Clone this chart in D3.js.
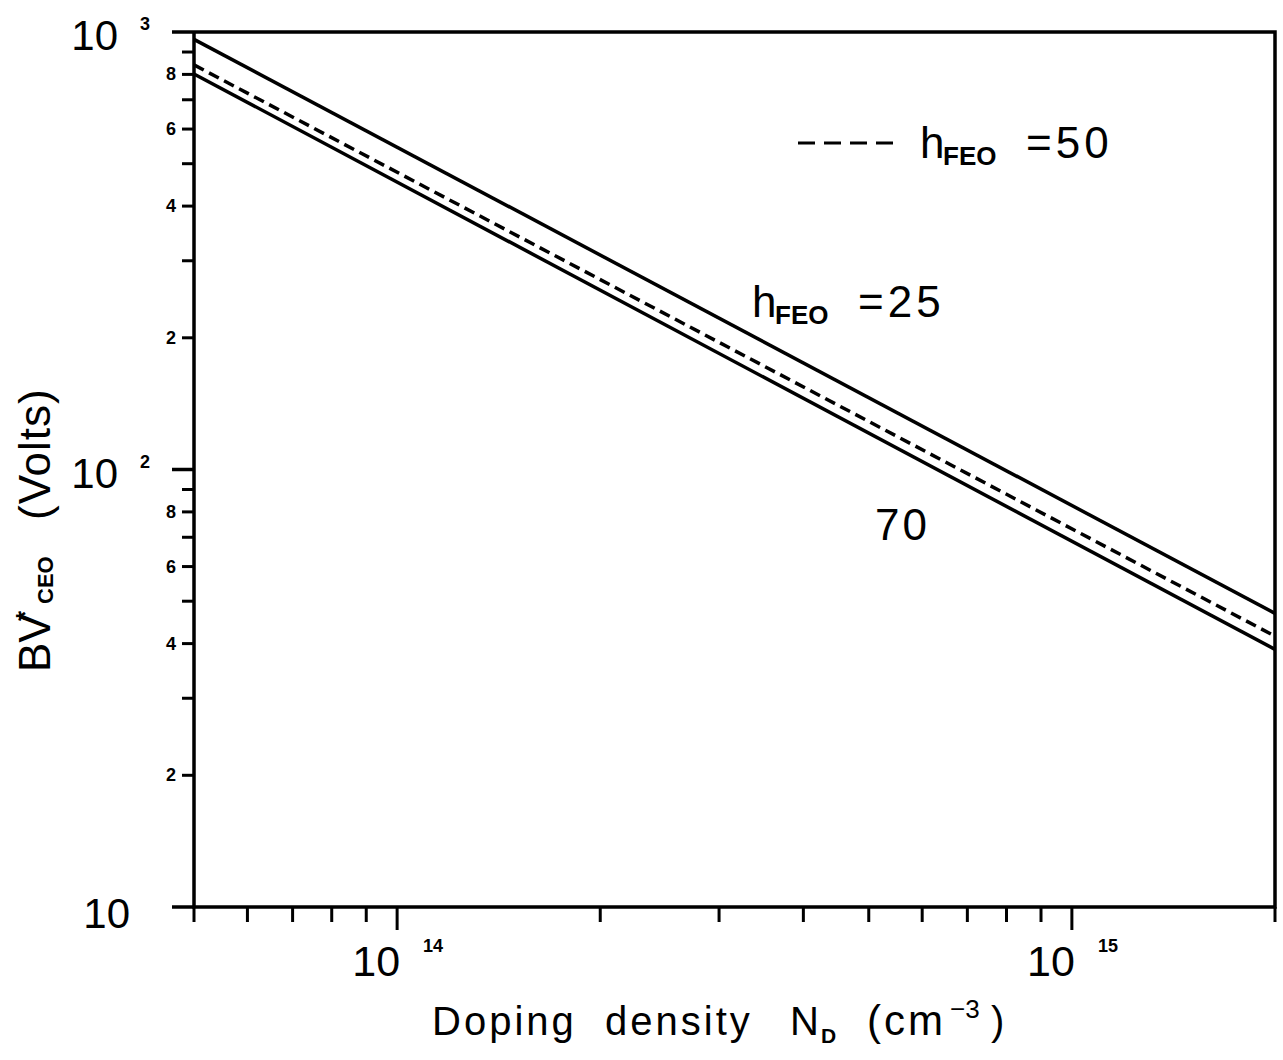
<!DOCTYPE html>
<html>
<head>
<meta charset="utf-8">
<script src="https://cdn.jsdelivr.net/npm/d3@7"></script>
<style>
  body { margin: 0; background: #ffffff; }
  text { font-family: "Liberation Sans", Arial, sans-serif; fill: #000000; }
</style>
</head>
<body>
<script>
const width = 1283;
const height = 1060;

// values (log-log straight lines)
const dopingN = [5e13, 2e15];
const bvH25 = [962, 46.9];
const bvH50 = [841, 41.6];
const bvH70 = [802, 38.8];

// tick values
const xMajor = [1e14, 1e15];
const xMajorExp = ["14", "15"];
const xMinor = [5e13, 6e13, 7e13, 8e13, 9e13, 2e14, 3e14, 4e14, 5e14, 6e14, 7e14, 8e14, 9e14, 2e15];
const yDecades = [10, 100, 1000];
const yDecadeExp = ["", "2", "3"];
const yLabeled = [20, 40, 60, 80, 200, 400, 600, 800];
const yLabeledText = ["2", "4", "6", "8", "2", "4", "6", "8"];
const yMinor = [30, 50, 70, 90, 300, 500, 700, 900];

const svg = d3.select("body").append("svg")
    .attr("width", width)
    .attr("height", height);

const x = d3.scaleLog().domain([5e13, 2e15]).range([194, 1275]);
const y = d3.scaleLog().domain([10, 1000]).range([907, 32]);

//Frame (left, bottom, right, top)
const frame = svg.append("g")
    .attr("stroke", "#000")
    .attr("stroke-width", 3.5)
    .attr("fill", "none");
frame.append("path")
    .attr("d", `M${x(5e13)},${y(1000)}V${y(10)}H${x(2e15)}V${y(1000)}H${x(5e13)}`);

//X ticks
frame.selectAll(".xminor").data(xMinor).join("line")
    .attr("x1", d => x(d)).attr("x2", d => x(d))
    .attr("y1", y(10)).attr("y2", y(10) + 15)
    .attr("stroke-width", 3);
frame.selectAll(".xmajor").data(xMajor).join("line")
    .attr("x1", d => x(d)).attr("x2", d => x(d))
    .attr("y1", y(10)).attr("y2", y(10) + 23)
    .attr("stroke-width", 3);

//Y ticks
frame.selectAll(".ydec").data(yDecades).join("line")
    .attr("x1", x(5e13) - 22).attr("x2", x(5e13))
    .attr("y1", d => y(d)).attr("y2", d => y(d));
frame.selectAll(".ysmall").data(yLabeled.concat(yMinor)).join("line")
    .attr("x1", x(5e13) - 12).attr("x2", x(5e13))
    .attr("y1", d => y(d)).attr("y2", d => y(d))
    .attr("stroke-width", 3);

//Y tick labels
svg.selectAll(".ylab").data(yLabeled).join("text")
    .attr("x", 176)
    .attr("y", d => y(d) + 6)
    .attr("text-anchor", "end")
    .style("font-size", "18px")
    .style("font-weight", "bold")
    .text((d, i) => yLabeledText[i]);

svg.selectAll(".ydeclab").data(yDecades).join("text")
    .attr("x", d => d === 10 ? 130 : 118)
    .attr("y", d => y(d) + (d === 10 ? 21 : 18))
    .attr("text-anchor", "end")
    .style("font-size", "42px")
    .text("10");
svg.selectAll(".ydecexp").data(yDecades).join("text")
    .attr("x", 140)
    .attr("y", d => y(d) - 2)
    .style("font-size", "18px")
    .style("font-weight", "bold")
    .text((d, i) => yDecadeExp[i]);

//X tick labels
svg.selectAll(".xlab").data(xMajor).join("text")
    .attr("x", d => x(d) + 3)
    .attr("y", 976)
    .attr("text-anchor", "end")
    .style("font-size", "43px")
    .text("10");
svg.selectAll(".xexp").data(xMajor).join("text")
    .attr("x", d => x(d) + 26)
    .attr("y", 952)
    .style("font-size", "18px")
    .style("font-weight", "bold")
    .text((d, i) => xMajorExp[i]);

//Curves
const line = d3.line()
    .x(d => x(d[0]))
    .y(d => y(d[1]));

const series = [
    { vals: bvH25, dash: null },
    { vals: bvH50, dash: "11,6" },
    { vals: bvH70, dash: null }
];
svg.selectAll(".curve").data(series).join("path")
    .attr("class", "curve")
    .attr("d", s => line(dopingN.map((n, i) => [n, s.vals[i]])))
    .attr("fill", "none")
    .attr("stroke", "#000")
    .attr("stroke-width", 3.5)
    .attr("stroke-dasharray", s => s.dash);

//Legend + curve labels
svg.append("line")
    .attr("x1", 798).attr("x2", 898)
    .attr("y1", 143).attr("y2", 143)
    .attr("stroke", "#000")
    .attr("stroke-width", 3)
    .attr("stroke-dasharray", "17,9");

function hfeo(x0, yb, value) {
    svg.append("text").attr("x", x0).attr("y", yb)
        .style("font-size", "44px").text("h");
    svg.append("text").attr("x", x0 + 23).attr("y", yb + 7)
        .style("font-size", "26px").style("font-weight", "bold").text("FEO");
    svg.append("text").attr("x", x0 + 106).attr("y", yb)
        .style("font-size", "44px").style("letter-spacing", "4px").text("=" + value);
}
hfeo(920, 158, "50");
hfeo(752, 317, "25");

svg.append("text")
    .attr("x", 875).attr("y", 540)
    .style("font-size", "44px")
    .style("letter-spacing", "3px")
    .text("70");

//Axis titles
const xt = svg.append("text")
    .attr("y", 1035)
    .style("font-size", "40px")
    .style("letter-spacing", "3px");
xt.append("tspan").attr("x", 432).text("Doping");
xt.append("tspan").attr("x", 605).text("density");
xt.append("tspan").attr("x", 790).text("N");
xt.append("tspan").attr("x", 821).attr("dy", 8).style("font-size", "21px").style("font-weight", "bold").style("letter-spacing", "0px").text("D");
xt.append("tspan").attr("x", 867).attr("dy", -8).style("font-size", "42px").text("(cm");
xt.append("tspan").attr("x", 950).attr("dy", -17).style("font-size", "26px").style("letter-spacing", "0px").text("−3");
xt.append("tspan").attr("x", 991).attr("dy", 17).text(")");

const yt = svg.append("text")
    .attr("transform", "translate(50,672) rotate(-90)")
    .style("font-size", "44px");
yt.append("tspan").attr("x", 0).text("BV");
yt.append("tspan").attr("x", 51).attr("dy", -16).style("font-size", "26px").style("font-weight", "bold").text("*");
yt.append("tspan").attr("x", 68).attr("dy", 19).style("font-size", "22px").style("font-weight", "bold").text("CEO");
yt.append("tspan").attr("x", 152).attr("dy", -3).style("letter-spacing", "1px").text("(Volts)");
</script>
</body>
</html>
